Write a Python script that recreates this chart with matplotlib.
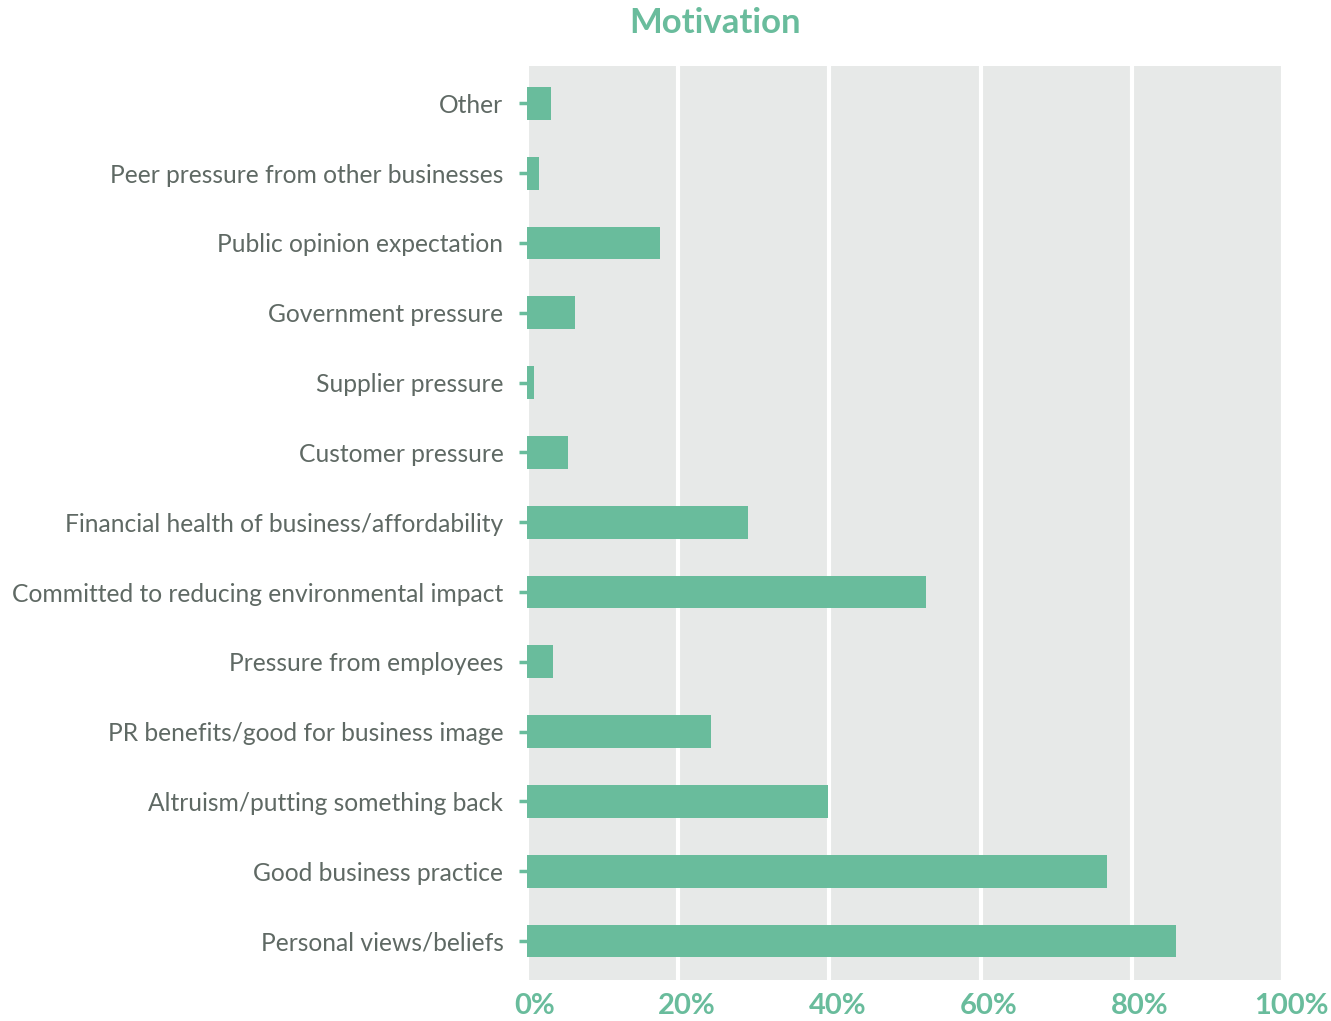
import numpy as np
import matplotlib.pyplot as plt
import matplotlib.transforms as mtransforms

plt.rcParams['font.family'] = ['Lato', 'DejaVu Sans']

# Motivation categories (bottom to top) and share of respondents in %
categories = ['Personal views/beliefs', 'Good business practice', 'Altruism/putting something back',
              'PR benefits/good for business image', 'Pressure from employees',
              'Committed to reducing environmental impact', 'Financial health of business/affordability',
              'Customer pressure', 'Supplier pressure', 'Government pressure',
              'Public opinion expectation', 'Peer pressure from other businesses', 'Other']
values = [85.8, 76.7, 39.8, 24.3, 3.4, 52.8, 29.2, 5.4, 0.9, 6.3, 17.6, 1.6, 3.2]
xticks = [0, 20, 40, 60, 80, 100]
xlabels = ['0%', '20%', '40%', '60%', '80%', '100%']

green = '#69bc9c'
grey_txt = '#5f6964'

fig = plt.figure(figsize=(13.31, 10.21), dpi=100)
ax = fig.add_axes([0.396, 0.040, 0.568, 0.895])
ax.set_facecolor('#e7e9e8')

y = np.arange(len(categories))
ax.barh(y, values, height=0.47, color=green, zorder=3)

ax.set_xlim(0, 100)
ax.set_ylim(-0.56, len(categories) - 1 + 0.53)
ax.set_xticks(xticks)
ax.set_xticklabels(xlabels, color=green, fontsize=21, fontweight='bold')
ax.set_yticks(y)
ax.set_yticklabels(categories, color=grey_txt, fontsize=17.7)
ax.tick_params(axis='x', length=0, pad=9)
ax.tick_params(axis='y', length=6, width=2.5, color=green, pad=11)
ax.grid(axis='x', color='white', linewidth=3, zorder=1)
for s in ax.spines.values():
    s.set_visible(False)

# x tick labels sit a little right of their ticks in the original
shift = mtransforms.ScaledTranslation(8 / 100, 0, fig.dpi_scale_trans)
for lbl in ax.get_xticklabels():
    lbl.set_transform(lbl.get_transform() + shift)

fig.text(0.537, 0.977, 'Motivation', ha='center', va='center', color=green,
         fontsize=25, fontweight='bold')

plt.savefig('out.png', dpi=100)
